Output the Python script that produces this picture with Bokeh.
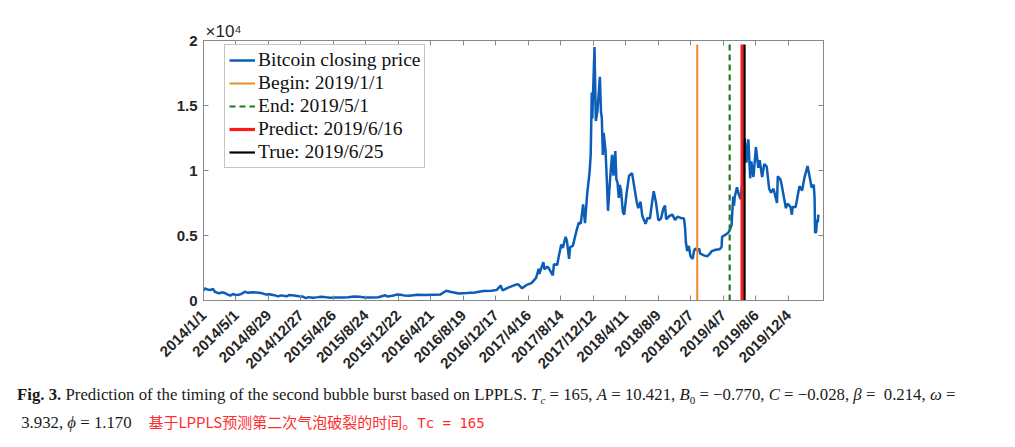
import datetime as dt
from bokeh.plotting import figure
from bokeh.models import (FixedTicker, LinearAxis, DatetimeAxis, Range1d, Title,
                          Legend, LegendItem, Div, ColumnDataSource)
from bokeh.layouts import column
from bokeh.embed import file_html
from bokeh.resources import INLINE

# ---------------- data ----------------
dates = [
    "2014/1/1", "2014/1/6", "2014/1/15", "2014/1/27", "2014/2/5", "2014/2/12", "2014/2/20",
    "2014/3/1", "2014/3/10", "2014/3/20", "2014/3/30", "2014/4/10", "2014/4/20", "2014/4/28",
    "2014/5/10", "2014/5/20", "2014/6/3", "2014/6/15", "2014/7/1", "2014/7/15", "2014/8/1",
    "2014/8/18", "2014/9/1", "2014/9/20", "2014/10/4", "2014/10/15", "2014/11/4", "2014/11/13",
    "2014/12/1", "2014/12/20",
    "2015/1/1", "2015/1/14", "2015/1/25", "2015/2/10", "2015/3/1", "2015/3/11", "2015/4/1",
    "2015/4/14", "2015/5/6", "2015/6/1", "2015/6/20", "2015/7/12", "2015/8/1", "2015/8/20",
    "2015/9/15", "2015/10/10", "2015/11/4", "2015/11/12", "2015/12/1", "2015/12/17",
    "2016/1/1", "2016/1/15", "2016/2/1", "2016/3/1", "2016/4/1", "2016/5/1", "2016/5/27",
    "2016/6/17", "2016/7/1", "2016/8/2", "2016/9/1", "2016/10/1", "2016/11/1", "2016/12/1",
    "2016/12/20",
    "2017/1/4", "2017/1/11", "2017/2/1", "2017/3/1", "2017/3/10", "2017/3/24", "2017/4/10",
    "2017/4/28", "2017/5/15", "2017/5/25", "2017/5/27", "2017/6/11", "2017/6/15", "2017/6/25",
    "2017/7/1", "2017/7/16", "2017/7/20", "2017/8/1", "2017/8/7", "2017/8/16", "2017/8/22",
    "2017/9/1", "2017/9/6", "2017/9/14", "2017/9/18", "2017/9/28", "2017/10/12", "2017/10/20",
    "2017/10/27", "2017/11/5", "2017/11/12", "2017/11/20", "2017/11/29", "2017/12/3",
    "2017/12/7", "2017/12/9", "2017/12/17", "2017/12/22", "2017/12/28",
    "2018/1/6", "2018/1/10", "2018/1/13", "2018/1/17", "2018/1/20", "2018/1/27", "2018/2/1",
    "2018/2/5", "2018/2/10", "2018/2/15", "2018/2/20", "2018/2/25", "2018/3/4", "2018/3/8",
    "2018/3/12", "2018/3/17", "2018/3/20", "2018/3/25", "2018/4/1", "2018/4/6", "2018/4/15",
    "2018/4/24", "2018/5/5", "2018/5/15", "2018/5/23", "2018/5/28", "2018/6/5", "2018/6/12",
    "2018/6/24", "2018/7/1", "2018/7/10", "2018/7/17", "2018/7/24", "2018/8/1", "2018/8/10",
    "2018/8/14", "2018/8/20", "2018/8/29", "2018/9/4", "2018/9/8", "2018/9/20", "2018/10/1",
    "2018/10/11", "2018/10/20", "2018/11/1", "2018/11/13", "2018/11/17", "2018/11/20",
    "2018/11/25", "2018/12/1", "2018/12/7", "2018/12/15", "2018/12/20", "2018/12/24",
    "2019/1/1", "2019/1/8", "2019/1/12", "2019/1/28", "2019/2/7", "2019/2/17", "2019/2/24",
    "2019/3/10", "2019/3/25", "2019/4/1", "2019/4/3", "2019/4/15", "2019/4/25", "2019/5/1",
    "2019/5/8", "2019/5/11", "2019/5/14", "2019/5/17", "2019/5/20", "2019/5/28", "2019/6/3",
    "2019/6/10", "2019/6/16", "2019/6/22", "2019/6/26", "2019/7/2", "2019/7/9", "2019/7/16",
    "2019/7/20", "2019/7/28", "2019/8/6", "2019/8/15", "2019/8/20", "2019/8/29", "2019/9/6",
    "2019/9/15", "2019/9/24", "2019/10/1", "2019/10/10", "2019/10/23", "2019/10/26",
    "2019/11/5", "2019/11/10", "2019/11/25", "2019/12/1", "2019/12/12", "2019/12/17",
    "2019/12/20", "2019/12/31",
    "2020/1/8", "2020/1/14", "2020/1/24", "2020/2/1", "2020/2/13", "2020/2/20", "2020/2/28",
    "2020/3/7", "2020/3/10", "2020/3/12", "2020/3/16", "2020/3/19", "2020/3/22", "2020/3/24",
]
prices = [
    770, 930, 850, 800, 900, 670, 600,
    560, 630, 580, 470, 380, 500, 430,
    440, 490, 670, 590, 640, 620, 585,
    470, 480, 410, 320, 395, 325, 420,
    380, 320,
    315, 180, 255, 220, 260, 295, 245,
    220, 230, 225, 245, 310, 280, 235,
    230, 245, 400, 305, 360, 455,
    435, 375, 372, 435, 417, 450, 470,
    750, 675, 540, 575, 615, 730, 750,
    800,
    1150, 780, 990, 1220, 1250, 940, 1200,
    1340, 1740, 2450, 2050, 2950, 2400, 2600,
    2480, 1930, 2800, 2730, 3400, 4300, 4050,
    4900, 4600, 3200, 4100, 4200, 5400, 6000,
    5900, 7400, 5950, 8200, 9900, 11200,
    16000, 14000, 19500, 13800, 14600,
    17200, 14500, 14100, 11200, 12900, 11500, 9100,
    6900, 8500, 10000, 11200, 9600, 11500, 9300,
    9100, 7900, 8900, 8500, 6800, 6600, 8300,
    9600, 9800, 8500, 7500, 7100, 7600, 6500,
    5900, 6350, 6300, 7400, 8400, 7600, 6200,
    6200, 6300, 7100, 7300, 6250, 6500, 6600,
    6200, 6450, 6350, 6300, 5600, 4500,
    3800, 4200, 3400, 3200, 3800, 4000,
    3850, 4000, 3600, 3450, 3400, 3600, 3800,
    3900, 3950, 4100, 4900, 5050, 5200, 5400,
    5800, 6900, 8000, 7300, 8000, 8700, 8200,
    7800, 8900, 10700, 12500, 10600, 12400, 9400,
    10700, 9500, 11800, 10200, 10800, 9500, 10500,
    10300, 8600, 8300, 8600, 7500, 9550,
    9300, 8800, 7100, 7450, 7200, 6600,
    7200, 7200,
    8100, 8800, 8450, 9400, 10350, 9600, 8700,
    8900, 7900, 5200, 5300, 6200, 6000, 6600,
]

x_tick_labels = ["2014/1/1", "2014/5/1", "2014/8/29", "2014/12/27", "2015/4/26", "2015/8/24",
                 "2015/12/22", "2016/4/21", "2016/8/19", "2016/12/17", "2017/4/16", "2017/8/14",
                 "2017/12/12", "2018/4/11", "2018/8/9", "2018/12/7", "2019/4/7", "2019/8/6",
                 "2019/12/4"]
y_ticks = [0, 5000, 10000, 15000, 20000]
y_tick_labels = ["0", "0.5", "1", "1.5", "2"]
y_multiplier = "×10⁴"

series_name = "Bitcoin closing price"
event_names = ["Begin: 2019/1/1", "End: 2019/5/1", "Predict: 2019/6/16", "True: 2019/6/25"]
event_dates = ["2019/1/1", "2019/5/1", "2019/6/16", "2019/6/25"]


def ms(s):
    y, m, d = map(int, s.split("/"))
    return (dt.datetime(y, m, d) - dt.datetime(1970, 1, 1)).total_seconds() * 1000.0


x_start, x_end = "2014/1/1", "2020/4/12"
y_top = 20000

# ---------------- figure ----------------
p = figure(width=1000, height=382, output_backend="svg", toolbar_location=None,
           x_axis_type="datetime",
           x_range=Range1d(ms(x_start), ms(x_end)), y_range=Range1d(0, y_top),
           min_border_left=203, min_border_right=177, min_border_top=40, min_border_bottom=82)
p.grid.visible = False
p.outline_line_color = "#888888"
p.background_fill_color = "white"
p.border_fill_color = "white"

src = ColumnDataSource(dict(x=[ms(d) for d in dates], y=prices))
r_main = p.line("x", "y", source=src, line_color="#0C5DB8", line_width=2.5)

ev_styles = [
    dict(color="#EE8A2D", width=2, dash="solid"),
    dict(color="#1E7B1E", width=2.2, dash="6 4"),
    dict(color="#FF1A1A", width=3.2, dash="solid"),
    dict(color="#000000", width=2.2, dash="solid"),
]
ev_renderers = []
line_top = max(prices) + 200
for d, st in zip(event_dates, ev_styles):
    r = p.segment(x0=[ms(d)], y0=[0], x1=[ms(d)], y1=[line_top],
                  line_color=st["color"], line_width=st["width"], line_dash=st["dash"])
    ev_renderers.append(r)

tick_ms = [ms(t) for t in x_tick_labels]
axis_color = "#888888"
label_color = "#262626"

xa = p.xaxis[0]
xa.ticker = FixedTicker(ticks=tick_ms)
xa.major_label_overrides = {t: l for t, l in zip(tick_ms, x_tick_labels)}
xa.major_label_orientation = 0.785398
xa.major_label_text_font = "Liberation Sans"
xa.major_label_text_font_style = "bold"
xa.major_label_text_font_size = "15px"
xa.major_label_text_color = label_color
xa.major_label_standoff = 12

ya = p.yaxis[0]
ya.ticker = FixedTicker(ticks=y_ticks)
ya.major_label_overrides = {t: l for t, l in zip(y_ticks, y_tick_labels)}
ya.major_label_text_font = "Liberation Sans"
ya.major_label_text_font_style = "bold"
ya.major_label_text_font_size = "15px"
ya.major_label_text_color = label_color
ya.major_label_standoff = 6

for ax in (xa, ya):
    ax.axis_line_color = axis_color
    ax.major_tick_line_color = axis_color
    ax.major_tick_in = 5
    ax.major_tick_out = 0
    ax.minor_tick_line_color = None

top_ax = DatetimeAxis(ticker=FixedTicker(ticks=tick_ms))
right_ax = LinearAxis(ticker=FixedTicker(ticks=y_ticks))
for ax in (top_ax, right_ax):
    ax.axis_line_color = axis_color
    ax.major_tick_line_color = axis_color
    ax.major_tick_in = 5
    ax.major_tick_out = 0
    ax.minor_tick_line_color = None
    ax.major_label_text_alpha = 0
    ax.major_label_text_font_size = "1px"
    ax.major_label_standoff = 0
p.add_layout(top_ax, "above")
p.add_layout(right_ax, "right")

# multiplier label above the frame
p.add_layout(Title(text=y_multiplier, align="left", offset=2, standoff=0,
                   text_font="Liberation Sans", text_font_size="17px",
                   text_font_style="normal", text_color=label_color), "above")

items = [LegendItem(label=series_name, renderers=[r_main])]
for name, r in zip(event_names, ev_renderers):
    items.append(LegendItem(label=name, renderers=[r]))
legend = Legend(items=items, location=(21, 132), orientation="vertical",
                border_line_color="#8c8c8c", border_line_width=1,
                background_fill_color="white", background_fill_alpha=1,
                label_text_font="Liberation Serif", label_text_font_size="19.5px",
                label_text_color="#111111",
                glyph_width=26, glyph_height=22, label_height=22, label_standoff=3,
                spacing=1, padding=4, margin=0)
p.add_layout(legend, "center")

caption_html = (
    "<div style=\"font-family:'Liberation Serif'; font-size:16.8px; line-height:26px; "
    "color:#1a1a1a; padding-left:17px; padding-top:0px; white-space:nowrap;\">"
    "<b>Fig. 3.</b> Prediction of the timing of the second bubble burst based on LPPLS. "
    "<i>T</i><span style='position:relative; top:4px; font-size:11px; font-style:italic'>c</span> = 165, "
    "<i>A</i> = 10.421, "
    "<i>B</i><span style='position:relative; top:4px; font-size:11px'>0</span> = −0.770, "
    "<i>C</i> = −0.028, <i>β</i> = &nbsp;0.214, <i>ω</i> =<br>"
    "&nbsp;3.932, <i>ϕ</i> = 1.170 &nbsp;&nbsp;&nbsp;"
    "<span style=\"color:#ff2d2d; font-family:'Noto Sans CJK SC'; font-size:15px;\">"
    "基于LPPLS预测第二次气泡破裂的时间。"
    "<span style=\"font-family:'DejaVu Sans Mono'; font-size:14px;\">Tc = 165</span></span>"
    "</div>"
)
cap = Div(text=caption_html, width=1000, height=60, margin=(0, 0, 0, 0))

layout = column(p, cap, spacing=0)
open("out.html", "w").write(file_html(layout, INLINE))
